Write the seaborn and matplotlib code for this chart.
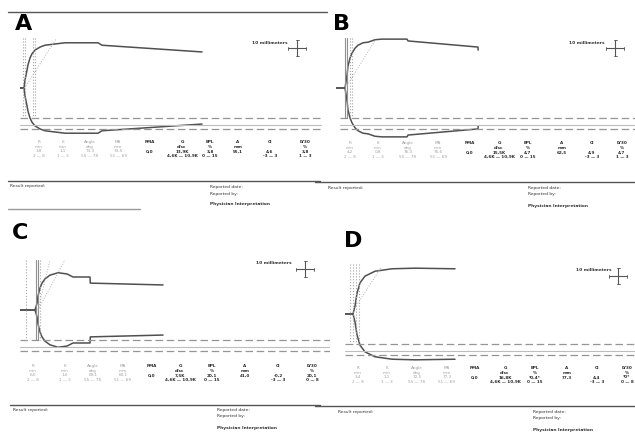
import numpy as np
import pandas as pd
import matplotlib
matplotlib.use("Agg")
import matplotlib.pyplot as plt
import seaborn as sns

# ---------------- data ----------------
panel_labels = ["A", "B", "C", "D"]

# TEG tracings: time (min) and amplitude (mm)
time_a = [0, 1.33, 1.67, 2.0, 2.33, 2.67, 3.33, 4.0, 5.0, 6.67, 8.33, 11.67, 15.0, 26.0, 27.33, 60.67]
amp_a = [0, 0, 13, 21, 29, 38, 49, 56, 62, 67, 70, 72, 74, 74, 70, 59]

time_b = [0, 3.0, 3.33, 3.67, 4.0, 4.67, 5.33, 6.33, 7.33, 9.0, 10.67, 13.0, 15.33, 23.67, 24.0, 47.33, 47.4]
amp_b = [0, 0, 10, 21, 36, 49, 57, 65, 70, 74, 75, 79, 80, 80, 77, 67, 62]

time_c = [0, 5.0, 5.67, 6.0, 6.67, 7.33, 8.33, 10.0, 12.67, 15.67, 17.67, 23.33, 23.43, 47.67]
amp_c = [0, 0, 11, 23, 36, 44, 51, 57, 61, 59, 54, 54, 44, 41]

time_d = [0, 2.67, 3.33, 4.0, 5.0, 6.67, 10.0, 15.67, 23.33, 36.67]
amp_d = [0, 0, 13, 34, 51, 62, 70, 74, 75, 74]

params = ["R", "K", "Angle", "MA", "PMA", "G", "EPL", "A", "CI", "LY30"]
units = ["min", "min", "deg", "mm", "", "d/sc", "%", "mm", "", "%"]
ranges_ab = ["2 — 8", "1 — 3", "55 — 78", "51 — 69", "", "4,6K — 10,9K", "0 — 15", "", "-3 — 3", "1 — 3"]
ranges_cd = ["2 — 8", "1 — 3", "55 — 78", "51 — 69", "", "4,6K — 10,9K", "0 — 15", "", "-3 — 3", "0 — 8"]
values_a = ["3,8", "1,1", "73,3", "73,5", "0,0", "13,9K", "3,8", "55,1", "4,6", "3,8"]
values_b = ["4,2", "0,8", "76,3", "75,6", "0,0", "15,5K", "4,7", "62,5", "4,9", "4,7"]
values_c = ["6,0", "1,0", "69,1", "60,1", "0,0", "7,5K", "20,1", "41,0", "-0,2", "20,1"]
values_d = ["3,4", "1,1", "72,5", "77,3", "0,0", "16,8K", "*0,4*", "77,3", "4,4", "*0*"]

# ---------------- figure ----------------
sns.set_theme(style="white")
plt.rcParams["font.family"] = ["DejaVu Sans"]

W, H = 635, 432
fig = plt.figure(figsize=(W / 100, H / 100), dpi=100)
fig.patch.set_facecolor("white")

ov = fig.add_axes([0, 0, 1, 1])
ov.set_xlim(0, W)
ov.set_ylim(H, 0)
ov.axis("off")
ov.set_zorder(0)

TR = "#505050"
GR = "#959595"

# panel layout (pixels)
layout = {
    "A": dict(x0=20, mid=88, width=302, letter=(15, 24), dash_start=0,
              cols=[39, 63, 90, 118, 150, 182, 210, 238, 270, 305], row0=142,
              line_y=181, line_x=(8, 320), rep=(10, 186), rep2=(210, 187),
              scale=(288, 43), cross=(297, 48),
              vlines=[(1.0, ":"), (1.67, ":"), (4.33, ":"), (5.0, ":")],
              angle=[(1.5, 0, 12, 40)]),
    "B": dict(x0=336, mid=88, width=299, letter=(333, 24), dash_start=1.33,
              cols=[350, 378, 408, 438, 470, 499, 528, 562, 592, 622], row0=143,
              line_y=182, line_x=(315, 635), rep=(328, 188), rep2=(528, 188),
              scale=(605, 43), cross=(615, 48),
              vlines=[(3.0, "-"), (3.67, "-"), (4.67, ":"), (5.33, ":")],
              angle=[(3.7, 2, 13, 39)]),
    "C": dict(x0=20, mid=310, width=310, letter=(12, 233), dash_start=0,
              cols=[33, 65, 93, 123, 152, 180, 212, 245, 278, 312], row0=366,
              line_y=405, line_x=(10, 320), rep=(13, 410), rep2=(217, 410),
              scale=(292, 263), cross=(305, 269),
              vlines=[(2.0, ":"), (5.33, "-"), (6.0, "-"), (6.67, ":")],
              angle=[(6.0, 0, 10, 41), (6.0, 0, 15, 41)]),
    "D": dict(x0=345, mid=314, width=290, letter=(344, 241), dash_start=0,
              cols=[358, 387, 417, 447, 475, 505, 535, 567, 597, 627], row0=368,
              line_y=406, line_x=(315, 635), rep=(338, 412), rep2=(533, 412),
              scale=(612, 270), cross=(618, 276),
              vlines=[(1.67, ":"), (2.67, ":"), (3.67, ":"), (4.67, ":")],
              angle=[(3.3, 5, 12, 38)]),
}

tracings = {"A": (time_a, amp_a), "B": (time_b, amp_b),
            "C": (time_c, amp_c), "D": (time_d, amp_d)}
values = {"A": values_a, "B": values_b, "C": values_c, "D": values_d}
ranges = {"A": ranges_ab, "B": ranges_ab, "C": ranges_cd, "D": ranges_cd}

PX_PER_MIN = 3.0
PX_PER_MM = 1.222
HALF_H = 55

# top border of panel A and short bottom line
ov.plot([8, 327], [12, 12], color="#555555", lw=1.0)
ov.plot([8, 140], [209, 209], color="#9a9a9a", lw=1.0)

for p in panel_labels:
    L = layout[p]
    x0, mid, wpx = L["x0"], L["mid"], L["width"]
    ax = fig.add_axes([x0 / W, 1 - (mid + HALF_H) / H, wpx / W, 2 * HALF_H / H])
    ax.set_zorder(1)
    ax.patch.set_alpha(0)
    tmax = wpx / PX_PER_MIN
    ymax = HALF_H / PX_PER_MM
    ax.set_xlim(0, tmax)
    ax.set_ylim(-ymax, ymax)
    ax.axis("off")

    t, a = tracings[p]
    df = pd.DataFrame({"time": t, "amp": a})
    df["upper"] = df["amp"] / 2.0
    df["lower"] = -df["amp"] / 2.0
    sns.lineplot(data=df, x="time", y="upper", ax=ax, color=TR, lw=1.1,
                 estimator=None, sort=False)
    sns.lineplot(data=df, x="time", y="lower", ax=ax, color=TR, lw=1.1,
                 estimator=None, sort=False)

    # reference lines
    d1, s1, d2 = -30 / PX_PER_MM, -37 / PX_PER_MM, -41 / PX_PER_MM
    ts = L["dash_start"]
    ax.plot([ts, tmax], [d1, d1], color=GR, lw=0.9, ls=(0, (6, 3)))
    ax.plot([ts, tmax], [s1, s1], color="#bdbdbd", lw=0.8)
    ax.plot([ts, tmax], [d2, d2], color=GR, lw=0.9, ls=(0, (6, 3)))

    top = 50 / PX_PER_MM
    for tv, ls in L["vlines"]:
        ax.plot([tv, tv], [top, d1], color="#a5a5a5" if ls == ":" else "#8f8f8f",
                lw=0.8, ls=ls)
    for (ta, ya, tb, yb) in L["angle"]:
        ax.plot([ta, tb], [ya, yb], color="#b5b5b5", lw=0.7, ls=":")

    # panel letter
    lx, ly = L["letter"]
    ov.text(lx, ly, p, fontsize=16, fontweight="black", color="black",
            ha="left", va="center")

    # scale marker
    sx, sy = L["scale"]
    ov.text(sx, sy, "10 millimeters", fontsize=3.2, fontweight="bold",
            color="#333333", ha="right", va="center")
    cx, cy = L["cross"]
    ov.plot([cx - 9, cx + 9], [cy, cy], color="#555555", lw=0.8)
    ov.plot([cx, cx], [cy - 8, cy + 8], color="#555555", lw=0.8)
    for e in (-9, 9):
        ov.plot([cx + e, cx + e], [cy - 1.5, cy + 1.5], color="#555555", lw=0.6)
    for e in (-8, 8):
        ov.plot([cx - 1.5, cx + 1.5], [cy + e, cy + e], color="#555555", lw=0.6)

    # parameter table
    r0 = L["row0"]
    for i, name in enumerate(params):
        cxp = L["cols"][i]
        col = "#a0a0a0" if i < 4 else "#2a2a2a"
        fw = "normal" if i < 4 else "bold"
        rows = [name, units[i], values[p][i], ranges[p][i]]
        for j, s in enumerate(rows):
            if s:
                ov.text(cxp, r0 + j * 4.7, s, fontsize=3.0, color=col,
                        fontweight=fw, ha="center", va="center")

    # report section
    lx0, lx1 = L["line_x"]
    ov.plot([lx0, lx1], [L["line_y"], L["line_y"]], color="#555555", lw=1.0)
    rx, ry = L["rep"]
    ov.text(rx, ry, "Result reported:", fontsize=3.2, color="#333333",
            ha="left", va="center")
    qx, qy = L["rep2"]
    ov.text(qx, qy, "Reported date:", fontsize=3.2, color="#333333",
            ha="left", va="center")
    ov.text(qx, qy + 6.5, "Reported by:", fontsize=3.2, color="#333333",
            ha="left", va="center")
    ov.text(qx, qy + 17.5, "Physician Interpretation", fontsize=3.2,
            color="#333333", fontweight="bold", ha="left", va="center")

fig.savefig("out.png", dpi=100, facecolor="white")
